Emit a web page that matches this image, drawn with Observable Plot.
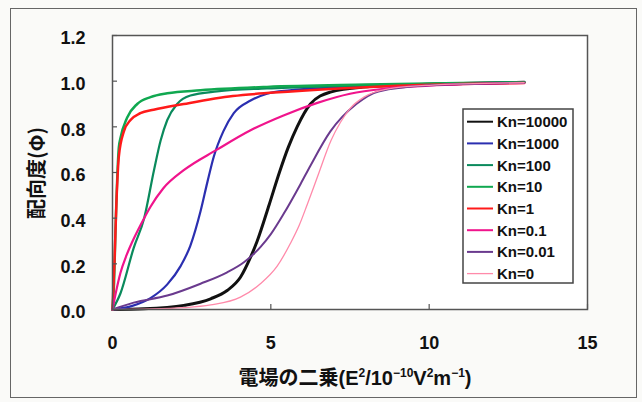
<!DOCTYPE html>
<html><head><meta charset="utf-8">
<script src="https://cdn.jsdelivr.net/npm/d3@7"></script>
<script src="https://cdn.jsdelivr.net/npm/@observablehq/plot@0.6"></script>
<style>
body{margin:0;background:#fafaf8;}
#wrap{position:relative;width:642px;height:402px;overflow:hidden;}
#border{position:absolute;left:10px;top:8px;width:627px;height:390px;border:1.5px solid #666;box-sizing:border-box;}
#chart{position:absolute;left:0;top:0;}
</style></head>
<body><div id="wrap"><div id="border"></div><div id="chart"></div></div>
<script>
// ---- data ----
const seriesNames  = ["Kn=10000","Kn=1000","Kn=100","Kn=10","Kn=1","Kn=0.1","Kn=0.01","Kn=0"];
const seriesColors = ["#111111","#2b2fb0","#0a8a5c","#10a850","#ff1a1a","#f0148c","#6a3a8e","#ff8aaa"];
const seriesWidths = [3, 2.2, 2.2, 2.5, 2.5, 2.2, 2, 1.3];

const xKn10000 = [0, 1.0, 2.25, 3.1, 3.62, 4.04, 4.36, 4.57, 4.95, 5.27, 5.55, 5.83, 6.25, 6.88, 7.9, 10, 13];
const yKn10000 = [0, 0.003, 0.018, 0.047, 0.083, 0.141, 0.229, 0.30, 0.46, 0.60, 0.71, 0.80, 0.90, 0.952, 0.974, 0.986, 0.995];

const xKn1000 = [0, 0.6, 1.2, 1.73, 2.15, 2.46, 2.78, 3.0, 3.2, 3.5, 3.83, 4.36, 4.88, 5.6, 7, 10, 13];
const yKn1000 = [0, 0.015, 0.05, 0.11, 0.19, 0.28, 0.43, 0.56, 0.67, 0.78, 0.86, 0.915, 0.945, 0.96, 0.972, 0.985, 0.995];

const xKn100 = [0, 0.25, 0.67, 1.0, 1.31, 1.52, 1.73, 2.04, 2.46, 3.3, 4.88, 7, 10, 13];
const yKn100 = [0, 0.07, 0.27, 0.40, 0.61, 0.74, 0.83, 0.90, 0.937, 0.955, 0.968, 0.978, 0.988, 0.995];

const xKn10 = [0, 0.05, 0.095, 0.2, 0.25, 0.46, 0.78, 1.2, 1.73, 2.78, 4.88, 8, 11, 13];
const yKn10 = [0, 0.12, 0.35, 0.71, 0.75, 0.84, 0.90, 0.93, 0.947, 0.96, 0.975, 0.985, 0.992, 0.995];

const xKn1 = [0, 0.06, 0.13, 0.2, 0.36, 0.57, 0.88, 1.3, 2.25, 3.8, 5.1, 7.0, 9, 13];
const yKn1 = [0, 0.2, 0.49, 0.67, 0.78, 0.83, 0.86, 0.875, 0.9, 0.935, 0.95, 0.967, 0.98, 0.992];

const xKn01 = [0, 0.1, 0.25, 0.45, 0.67, 1.0, 1.2, 1.6, 2.25, 3.3, 4.36, 5.4, 6.47, 7.5, 8.6, 10, 13];
const yKn01 = [0, 0.07, 0.16, 0.24, 0.31, 0.40, 0.45, 0.53, 0.61, 0.70, 0.785, 0.85, 0.905, 0.945, 0.967, 0.98, 0.992];

const xKn001 = [0, 0.67, 1.73, 2.78, 3.62, 4.15, 4.67, 5.0, 5.41, 5.94, 6.25, 6.88, 7.7, 8.4, 10, 13];
const yKn001 = [0, 0.03, 0.061, 0.113, 0.163, 0.207, 0.273, 0.33, 0.42, 0.55, 0.63, 0.78, 0.9, 0.955, 0.982, 0.993];

const xKn0 = [0, 1.0, 2.25, 3.1, 4.04, 4.67, 5.2, 5.62, 5.9, 6.15, 6.47, 6.9, 7.2, 7.5, 7.94, 8.67, 10, 13];
const yKn0 = [0, 0.002, 0.008, 0.02, 0.054, 0.113, 0.19, 0.29, 0.37, 0.46, 0.58, 0.74, 0.82, 0.88, 0.93, 0.965, 0.982, 0.993];

const xTicks = [0, 5, 10, 15];
const yTicks = [0, 0.2, 0.4, 0.6, 0.8, 1.0, 1.2];
const xTitleParts = [["電場の二乗(E",0],["2",1],["/10",0],["−10",1],["V",0],["2",1],["m",0],["−1",1],[")",0]];
const yTitle = "配向度(Φ)";

// ---- build ----
const xs = [xKn10000, xKn1000, xKn100, xKn10, xKn1, xKn01, xKn001, xKn0];
const ys = [yKn10000, yKn1000, yKn100, yKn10, yKn1, yKn01, yKn001, yKn0];
const seriesRows = seriesNames.map((name, i) => xs[i].map((x, j) => ({series: name, x, y: ys[i][j]})));

const font = "'Liberation Sans', Arial, sans-serif";
const chart = Plot.plot({
  width: 642, height: 402,
  marginLeft: 112, marginRight: 55, marginTop: 35, marginBottom: 93,
  style: {background: "transparent", fontFamily: font, color: "#111"},
  x: {domain: [0, 15]},
  y: {domain: [0, 1.2]},
  marks: [
    Plot.frame({fill: "white", stroke: null}),
    ...seriesRows.map((rows, i) => Plot.line(rows, {
      x: "x", y: "y", stroke: seriesColors[i], strokeWidth: seriesWidths[i], curve: "monotone-x"
    })),
    Plot.frame({stroke: "#555", strokeWidth: 1.5}),
    // inward tick marks
    Plot.ruleX(xTicks, {x: d => d, y1: 0, y2: 0, insetTop: -5, stroke: "#555", strokeWidth: 1.2}),
    Plot.ruleY(yTicks, {y: d => d, x1: 0, x2: 0, insetRight: -5, stroke: "#555", strokeWidth: 1.2}),
    Plot.axisX({ticks: xTicks, tickSize: 0, tickPadding: 27, fontSize: 18, fontWeight: "bold", label: null, tickFormat: d3.format("d")}),
    Plot.axisY({ticks: yTicks, tickSize: 0, tickPadding: 27, fontSize: 18, fontWeight: "bold", label: null, tickFormat: d3.format(".1f"), dy: 3})
  ]
});
document.getElementById("chart").appendChild(chart);

const svg = d3.select(chart);
// x title
const xt = svg.append("text")
  .attr("x", 355).attr("y", 385)
  .attr("text-anchor", "middle")
  .attr("font-family", font + ", 'Noto Sans CJK JP'")
  .attr("font-size", 20).attr("font-weight", "bold").attr("fill", "#111");
let sup = 0;
xTitleParts.forEach(([t, s]) => {
  const ts = xt.append("tspan").text(t);
  if (s && !sup) { ts.attr("dy", -8).attr("font-size", 12); sup = 1; }
  else if (s) { ts.attr("font-size", 12); }
  else if (!s && sup) { ts.attr("dy", 8); sup = 0; }
});
// y title
svg.append("text")
  .attr("transform", "translate(35,173) rotate(-90)")
  .attr("text-anchor", "middle").attr("dominant-baseline", "central")
  .attr("font-family", "'Noto Sans CJK JP', sans-serif")
  .attr("font-size", 20).attr("font-weight", "bold").attr("fill", "#111")
  .text(yTitle);

// legend
const lg = svg.append("g").attr("text-anchor", "start");
lg.append("rect").attr("x", 463).attr("y", 109).attr("width", 110).attr("height", 174)
  .attr("fill", "white").attr("stroke", "#444").attr("stroke-width", 1.5);
seriesNames.forEach((name, i) => {
  const yy = 121.7 + 21.7 * i;
  lg.append("line").attr("x1", 467).attr("x2", 493).attr("y1", yy).attr("y2", yy)
    .attr("stroke", seriesColors[i]).attr("stroke-width", Math.min(seriesWidths[i], 2));
  lg.append("text").attr("x", 497).attr("y", yy).attr("dominant-baseline", "central")
    .attr("text-anchor", "start")
    .attr("font-family", font).attr("font-size", 15).attr("font-weight", "bold").attr("fill", "#111")
    .text(name);
});
</script>
</body></html>
